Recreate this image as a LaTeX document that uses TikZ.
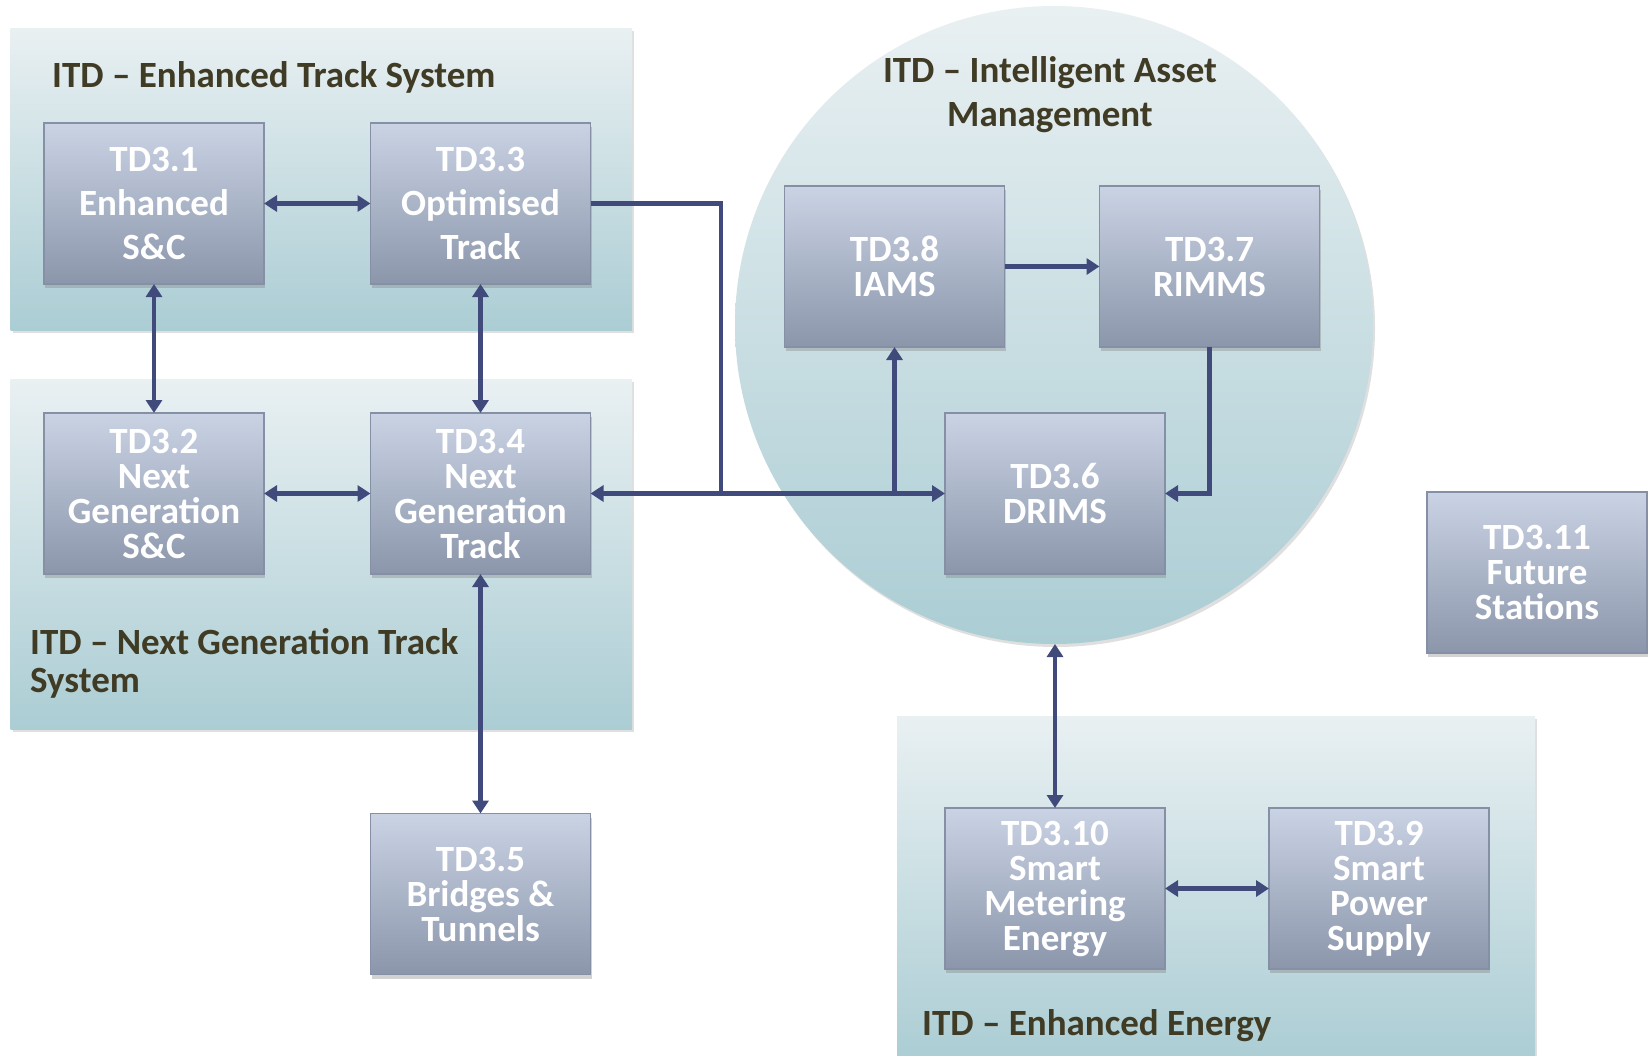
\documentclass[tikz,border=0pt]{standalone}
\usepackage{fontspec}
\setmainfont{Carlito}
\usetikzlibrary{arrows.meta,shadows,calc}
\definecolor{arrowc}{HTML}{404B7C}
\definecolor{panelTop}{HTML}{E9F0F2}
\definecolor{panelBot}{HTML}{ABCDD4}
\definecolor{boxTop}{HTML}{CAD3E4}
\definecolor{boxBot}{HTML}{8B96AB}
\definecolor{boxBorder}{HTML}{8590A6}
\definecolor{titleC}{HTML}{403B24}
\begin{document}
\begin{tikzpicture}[x=1pt,y=-1pt,
  panel/.style={draw=none, inner sep=0pt, outer sep=0pt, top color=panelTop, bottom color=panelBot,
    drop shadow={shadow xshift=2pt, shadow yshift=-3pt, opacity=0.25}},
  box/.style={draw=boxBorder, line width=1.2pt, top color=boxTop, bottom color=boxBot,
    minimum width=220pt, minimum height=161pt, inner sep=0pt, outer sep=0pt,
    text=white, align=center, font=\bfseries\fontsize{37}{35}\selectfont,
    drop shadow={shadow xshift=1pt, shadow yshift=-4pt, opacity=0.35}},
  tall/.style={font=\bfseries\fontsize{37}{44}\selectfont},
  title/.style={text=titleC, inner sep=0pt, font=\bfseries\fontsize{37}{38}\selectfont},
  conn/.style={draw=arrowc, line width=4.5pt},
  arr/.style={-{Triangle[width=16pt,length=13pt]}},
  arrboth/.style={{Triangle[width=16pt,length=13pt]}-{Triangle[width=16pt,length=13pt]}}
]
\useasboundingbox[fill=white] (0,0) rectangle (1651,1055);

% group panels
\node[panel, anchor=north west, minimum width=621.5pt, minimum height=302pt] (p1) at (10.5,28) {};
\node[panel, anchor=north west, minimum width=621.5pt, minimum height=350pt] (p2) at (10.5,379) {};
\node[panel, circle, minimum size=638pt] (circ) at (1054,325) {};
\node[panel, anchor=north west, minimum width=638pt, minimum height=345pt] (p3) at (897,716) {};

% titles
\node[title, anchor=west] (t1) at (52,77) {ITD – Enhanced Track System};
\node[title, anchor=west, align=left] (t2) at (30,663) {ITD – Next Generation Track\\System};
\node[title, align=center, font=\bfseries\fontsize{37}{44}\selectfont] (t3) at (1050,95) {ITD – Intelligent Asset\\Management};
\node[title, anchor=west] (t4) at (922,1026) {ITD – Enhanced Energy};

% boxes
\node[box, tall] (n31) at (154,203.5) {TD3.1\\Enhanced\\S\&C};
\node[box, tall] (n33) at (480.5,203.5) {TD3.3\\Optimised\\Track};
\node[box] (n32) at (154,493.5) {TD3.2\\Next\\Generation\\S\&C};
\node[box] (n34) at (480.5,493.5) {TD3.4\\Next\\Generation\\Track};
\node[box] (n35) at (480.5,894) {TD3.5\\Bridges \&\\Tunnels};
\node[box] (n38) at (894.5,266.5) {TD3.8\\IAMS};
\node[box] (n37) at (1209.5,266.5) {TD3.7\\RIMMS};
\node[box] (n36) at (1055,493.5) {TD3.6\\DRIMS};
\node[box] (n311) at (1537,572.5) {TD3.11\\Future\\Stations};
\node[box] (n310) at (1055,888.5) {TD3.10\\Smart\\Metering\\Energy};
\node[box] (n39) at (1379,888.5) {TD3.9\\Smart\\Power\\Supply};

% connectors
\coordinate (j1) at (721,493.5);
\draw[conn, arrboth] (n31.east) -- (n33.west);
\draw[conn, arrboth] (n31.south) -- (n32.north);
\draw[conn, arrboth] (n33.south) -- (n34.north);
\draw[conn, arrboth] (n32.east) -- (n34.west);
\draw[conn, arrboth] (n34.south) -- (n35.north);
\draw[conn] (n33.east) -| (j1);
\draw[conn, arrboth] (n34.east) -- (n36.west);
\draw[conn, arr] (n38.south |- n36.west) -- (n38.south);
\draw[conn, arr] (n38.east) -- (n37.west);
\draw[conn, arr] (n37.south) |- (n36.east);
\draw[conn, arrboth] (n310.north |- circ.south) -- (n310.north);
\draw[conn, arrboth] (n310.east) -- (n39.west);
\end{tikzpicture}
\end{document}
